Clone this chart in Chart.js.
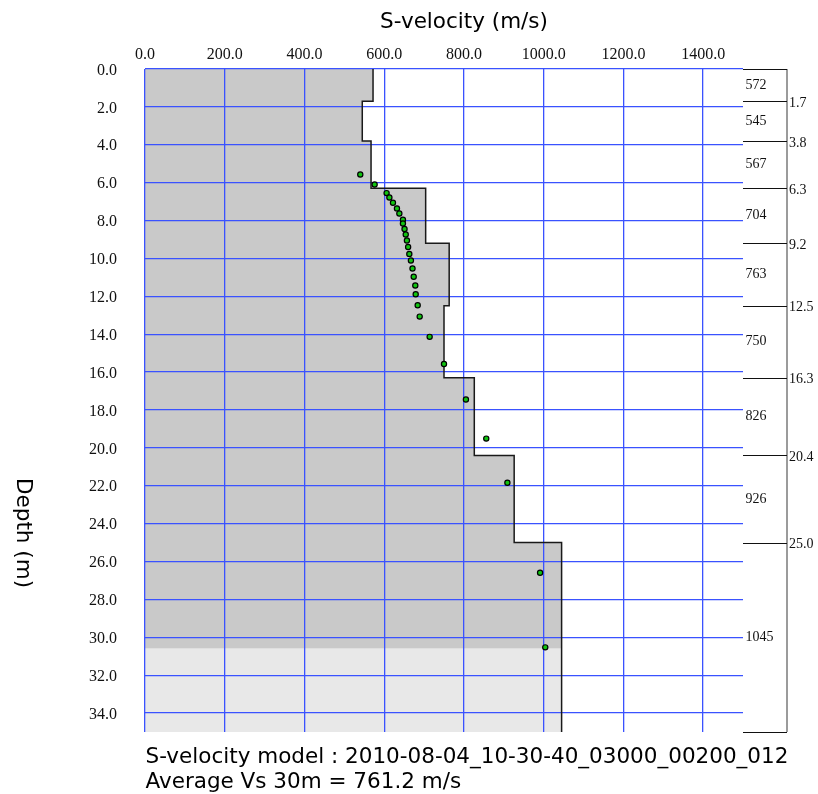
<!DOCTYPE html>
<html>
<head>
<meta charset="utf-8">
<script src="https://cdn.jsdelivr.net/npm/chart.js@4.4.1/dist/chart.umd.min.js"></script>
<style>
  html, body { margin: 0; padding: 0; background: #fff; }
  canvas { display: block; }
</style>
</head>
<body>
<canvas id="vsChart" width="818" height="794"></canvas>
<script>
// layered model: bottom depth of each layer (m) and its S-velocity (m/s)
const layerBottoms = [1.7, 3.8, 6.3, 9.2, 12.5, 16.3, 20.4, 25.0, 35.0];
const layerVs = [572, 545, 567, 704, 763, 750, 826, 926, 1045];
const boundaryLabels = ["1.7", "3.8", "6.3", "9.2", "12.5", "16.3", "20.4", "25.0"];
const vsLabels = ["572", "545", "567", "704", "763", "750", "826", "926", "1045"];
const resolvedDepth = 30.6; // below this the model is shaded lighter
const maxDepth = 35;
const maxVs = 1500;

// observed points (velocity, depth)
const obsVs = [540, 576, 606, 613, 622, 632, 638, 647, 647, 651, 654, 657, 660, 663,
  667, 671, 674, 678, 679, 684, 689, 714, 750, 805, 856, 909, 991, 1004];
const obsDepth = [5.57, 6.10, 6.55, 6.78, 7.06, 7.36, 7.63, 7.96, 8.16, 8.44, 8.74, 9.05, 9.40, 9.76,
  10.11, 10.53, 10.97, 11.43, 11.89, 12.47, 13.07, 14.14, 15.57, 17.45, 19.51, 21.84, 26.59, 30.53];

const titleText = "S-velocity (m/s)";
const depthText = "Depth (m)";
const footLines = [
  "S-velocity model : 2010-08-04_10-30-40_03000_00200_012",
  "Average Vs 30m = 761.2 m/s",
];

// corner points of the step profile
const stepPoints = [];
let layerTop = 0;
layerBottoms.forEach((bot, i) => {
  stepPoints.push({ x: layerVs[i], y: layerTop });
  stepPoints.push({ x: layerVs[i], y: bot });
  layerTop = bot;
});
const darkPoints = stepPoints.filter((p) => p.y < resolvedDepth);
darkPoints.push({ x: layerVs[layerVs.length - 1], y: resolvedDepth });
const lightPoints = [
  { x: layerVs[layerVs.length - 1], y: resolvedDepth },
  { x: layerVs[layerVs.length - 1], y: maxDepth },
];
const obsPoints = obsVs.map((v, i) => ({ x: v, y: obsDepth[i] }));

const serif = "'Liberation Serif', 'Times New Roman', serif";
const sans = "'DejaVu Sans', sans-serif";

// right-hand layer column + titles
const layerPanel = {
  id: "layerPanel",
  afterDraw(chart) {
    const { ctx, chartArea: a } = chart;
    const y = chart.scales.y;
    const lineX = a.right + 44;
    ctx.save();
    ctx.strokeStyle = "#7a7a7a";
    ctx.lineWidth = 1.5;
    ctx.beginPath();
    ctx.moveTo(lineX, y.getPixelForValue(0));
    ctx.lineTo(lineX, y.getPixelForValue(maxDepth));
    ctx.stroke();

    ctx.strokeStyle = "#111";
    ctx.lineWidth = 1;
    ctx.beginPath();
    [0].concat(layerBottoms).forEach((d) => {
      const py = Math.round(y.getPixelForValue(d)) + 0.5;
      ctx.moveTo(a.right, py);
      ctx.lineTo(lineX, py);
    });
    ctx.stroke();

    ctx.fillStyle = "#111";
    ctx.font = "14px " + serif;
    ctx.textAlign = "left";
    ctx.textBaseline = "middle";
    boundaryLabels.forEach((t, i) => {
      ctx.fillText(t, lineX + 2, y.getPixelForValue(layerBottoms[i]) + 2);
    });
    let d0 = 0;
    vsLabels.forEach((t, i) => {
      const mid = (d0 + layerBottoms[i]) / 2;
      ctx.fillText(t, a.right + 2.5, y.getPixelForValue(mid));
      d0 = layerBottoms[i];
    });

    // titles
    ctx.fillStyle = "#000";
    ctx.font = "21.5px " + sans;
    ctx.textBaseline = "alphabetic";
    ctx.textAlign = "center";
    ctx.fillText(titleText, 464, 28);
    ctx.textAlign = "left";
    ctx.fillText(footLines[0], 145.5, 763);
    ctx.fillText(footLines[1], 145.5, 788);
    ctx.save();
    ctx.translate(16.5, 533);
    ctx.rotate(Math.PI / 2);
    ctx.textAlign = "center";
    ctx.fillText(depthText, 0, 0);
    ctx.restore();
    ctx.restore();
  },
};

const gridBlue = "#3a52ff";
const tickFont = { family: serif, size: 16 };

new Chart(document.getElementById("vsChart"), {
  type: "line",
  data: {
    datasets: [
      {
        data: obsPoints,
        showLine: false,
        pointRadius: 2.6,
        pointBackgroundColor: "#10c410",
        pointBorderColor: "#000",
        pointBorderWidth: 1.2,
      },
      {
        data: stepPoints,
        borderColor: "#1a1a1a",
        borderWidth: 1.5,
        pointRadius: 0,
        fill: false,
      },
      {
        data: darkPoints,
        borderWidth: 0,
        pointRadius: 0,
        backgroundColor: "#c9c9c9",
        fill: "origin",
      },
      {
        data: lightPoints,
        borderWidth: 0,
        pointRadius: 0,
        backgroundColor: "#e8e8e8",
        fill: "origin",
      },
    ],
  },
  options: {
    responsive: false,
    animation: false,
    indexAxis: "y",
    layout: { padding: { left: 0, top: 0, right: 75, bottom: 62 } },
    plugins: {
      legend: { display: false },
      tooltip: { enabled: false },
      filler: { drawTime: "beforeDraw" },
    },
    scales: {
      x: {
        type: "linear",
        position: "top",
        min: 0,
        max: maxVs,
        border: { display: false },
        grid: { color: gridBlue, lineWidth: 1.3, drawTicks: false },
        ticks: {
          stepSize: 200,
          includeBounds: false,
          padding: 5,
          maxRotation: 0,
          autoSkip: false,
          color: "#111",
          font: tickFont,
          callback: (v) => v.toFixed(1),
        },
        afterFit: (s) => {
          s.height = 69;
        },
      },
      y: {
        type: "linear",
        reverse: true,
        min: 0,
        max: maxDepth,
        border: { display: false },
        grid: { color: gridBlue, lineWidth: 1.3, drawTicks: false },
        ticks: {
          stepSize: 2,
          includeBounds: false,
          padding: 28,
          labelOffset: 1.5,
          autoSkip: false,
          color: "#111",
          font: tickFont,
          callback: (v) => v.toFixed(1),
        },
        afterFit: (s) => {
          s.width = 145;
        },
      },
    },
  },
  plugins: [layerPanel],
});
</script>
</body>
</html>
